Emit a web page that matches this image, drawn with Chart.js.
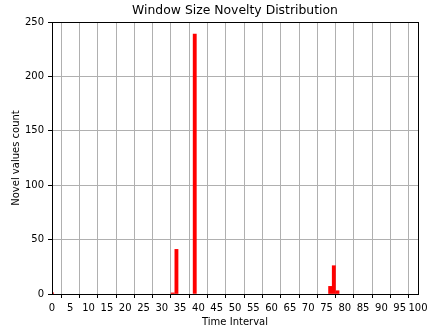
<!DOCTYPE html>
<html>
<head>
<meta charset="utf-8">
<script src="https://cdn.jsdelivr.net/npm/chart.js@4"></script>
<style>
  html, body { margin: 0; padding: 0; background: #fff; }
  #wrap { width: 428px; height: 328px; }
</style>
</head>
<body>
<div id="wrap"><canvas id="chart"></canvas></div>
<script>
const timeIntervals = [0, 33, 34, 39, 76, 77, 78];
const noveltyCounts = [1, 1, 41, 239, 7, 26, 3];
const xTicks = [0, 5, 10, 15, 20, 25, 30, 35, 40, 45, 50, 55, 60, 65, 70, 75, 80, 85, 90, 95, 100];
const yTicks = [0, 50, 100, 150, 200, 250];
const chartTitle = 'Window Size Novelty Distribution';

Chart.defaults.font.family = '"DejaVu Sans", sans-serif';
Chart.defaults.color = '#000';

// matplotlib-like frame round the plot area, title centred on the axes
const frame = {
    id: 'frame',
    afterDatasetsDraw(chart) {
        const { ctx, chartArea: a } = chart;
        ctx.save();
        ctx.strokeStyle = '#000';
        ctx.lineWidth = 1;
        ctx.strokeRect(a.left + 0.5, a.top + 0.5, a.right - a.left, a.bottom - a.top);
        ctx.fillStyle = '#000';
        ctx.font = '12.4px "DejaVu Sans", sans-serif';
        ctx.textAlign = 'center';
        ctx.textBaseline = 'middle';
        ctx.fillText(chartTitle, (a.left + a.right) / 2, a.top - 11);
        ctx.restore();
    }
};

const points = timeIntervals.map((x, i) => ({ x: x, y: noveltyCounts[i] }));

new Chart(document.querySelector('#chart'), {
    type: 'bar',
    data: {
        datasets: [{
            data: points,
            backgroundColor: '#ff0000',
            borderWidth: 0,
            barThickness: 3.2,
        }],
    },
    options: {
        responsive: true,
        maintainAspectRatio: false,
        animation: false,
        layout: { padding: { left: 0, right: 10, top: 22, bottom: 0 } },
        plugins: {
            legend: { display: false },
            tooltip: { enabled: false },
            title: { display: false },
        },
        scales: {
            x: {
                type: 'linear',
                min: 0,
                max: 100,
                offset: false,
                afterBuildTicks: (axis) => { axis.ticks = xTicks.map((v) => ({ value: v })); },
                afterFit: (axis) => {
                    axis.height = 34;
                    axis.paddingLeft = 0;
                    axis.paddingRight = 0;
                },
                ticks: { font: { size: 10 }, padding: 4, maxRotation: 0, autoSkip: false },
                grid: { color: '#b0b0b0', tickColor: '#000', tickLength: 4, lineWidth: 1 },
                border: { display: false },
                title: { display: true, text: 'Time Interval', font: { size: 10 }, padding: { top: 0, bottom: 0 } },
            },
            y: {
                min: 0,
                max: 250,
                afterBuildTicks: (axis) => { axis.ticks = yTicks.map((v) => ({ value: v })); },
                afterFit: (axis) => {
                    axis.width = 52;
                    axis.paddingTop = 0;
                    axis.paddingBottom = 0;
                },
                ticks: { font: { size: 10 }, padding: 4 },
                grid: { color: '#b0b0b0', tickColor: '#000', tickLength: 4, lineWidth: 1 },
                border: { display: false },
                title: { display: true, text: 'Novel values count', font: { size: 10 }, padding: { top: 10, bottom: 0 } },
            },
        },
    },
    plugins: [frame],
});
</script>
</body>
</html>
